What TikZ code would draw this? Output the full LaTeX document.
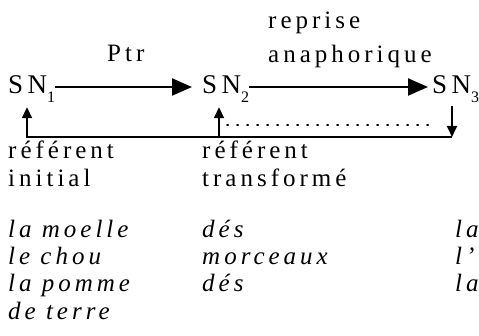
\documentclass[tikz,border=0pt]{standalone}
\usepackage{fontspec}
\setmainfont{Liberation Serif}[LetterSpace=16]
\usetikzlibrary{arrows.meta}
\newcommand\snsub[1]{\raisebox{-9pt}{\fontsize{16}{16}\selectfont #1}}

\begin{document}
\begin{tikzpicture}[x=1pt,y=-1pt,
  lbl/.style={anchor=base west,inner sep=0pt,font=\fontsize{25}{30}\selectfont},
  ex/.style={anchor=base west,inner sep=0pt,font=\fontsize{25}{30}\selectfont\itshape},
  sn/.style={anchor=base west,inner sep=0pt,font=\fontsize{27}{32}\selectfont},
  big/.style={line width=2.2pt,-{Triangle[length=20pt,width=17pt]}},
  small/.style={line width=1.8pt,-{Triangle[length=11pt,width=10pt]}},
  dots/.style={line width=1.8pt,line cap=round,dash pattern=on 1.2pt off 8.8pt}]
\useasboundingbox (0,0) rectangle (479,336);
% noeuds SN
\node[sn] (sn1) at (8,94) {SN\snsub{1}};
\node[sn] (sn2) at (202,94) {SN\snsub{2}};
\node[sn] (sn3) at (432,94) {SN\snsub{3}};
% etiquettes
\node[lbl] (ptr) at (107,62) {Ptr};
\node[lbl] (rep) at (268,29) {reprise};
\node[lbl] (ana) at (268,63) {anaphorique};
\node[lbl] (ref1) at (8,159) {référent};
\node[lbl] (ini) at (8,187) {initial};
\node[lbl] (ref2) at (202,159) {référent};
\node[lbl] (tra) at (202,187) {transformé};
% exemples
\node[ex] (e11) at (8,238) {la moelle};
\node[ex] (e12) at (202,238) {dés};
\node[ex] (e13) at (455,238) {la};
\node[ex] (e21) at (8,265) {le chou};
\node[ex] (e22) at (202,265) {morceaux};
\node[ex] (e23) at (455,265) {l’};
\node[ex] (e31) at (8,292) {la pomme};
\node[ex] (e32) at (202,292) {dés};
\node[ex] (e33) at (455,292) {la};
\node[ex] (e41) at (8,320) {de terre};
% fleches
\coordinate (b1) at (27,137);
\coordinate (b2) at (219,137);
\coordinate (b3) at (452,137);
\coordinate (d1) at (227,125);
\coordinate (d2) at (430,125);
\draw[big,shorten <=0pt,shorten >=10pt] ([yshift=7pt]sn1.base east) -- ([yshift=7pt]sn2.base west);
\draw[big,shorten <=0pt,shorten >=4pt] ([yshift=7pt]sn2.base east) -- ([yshift=7pt]sn3.base west);
\draw[small,shorten <=3pt] (b3 |- sn3.south) -- (b3);
\draw[small,shorten >=4pt] (b3) -- (b1) -- (b1 |- sn1.south);
\draw[small,shorten >=4pt] (b2) -- (b2 |- sn2.south);
\draw[dots] (d1) -- (d2);
\end{tikzpicture}
\end{document}
